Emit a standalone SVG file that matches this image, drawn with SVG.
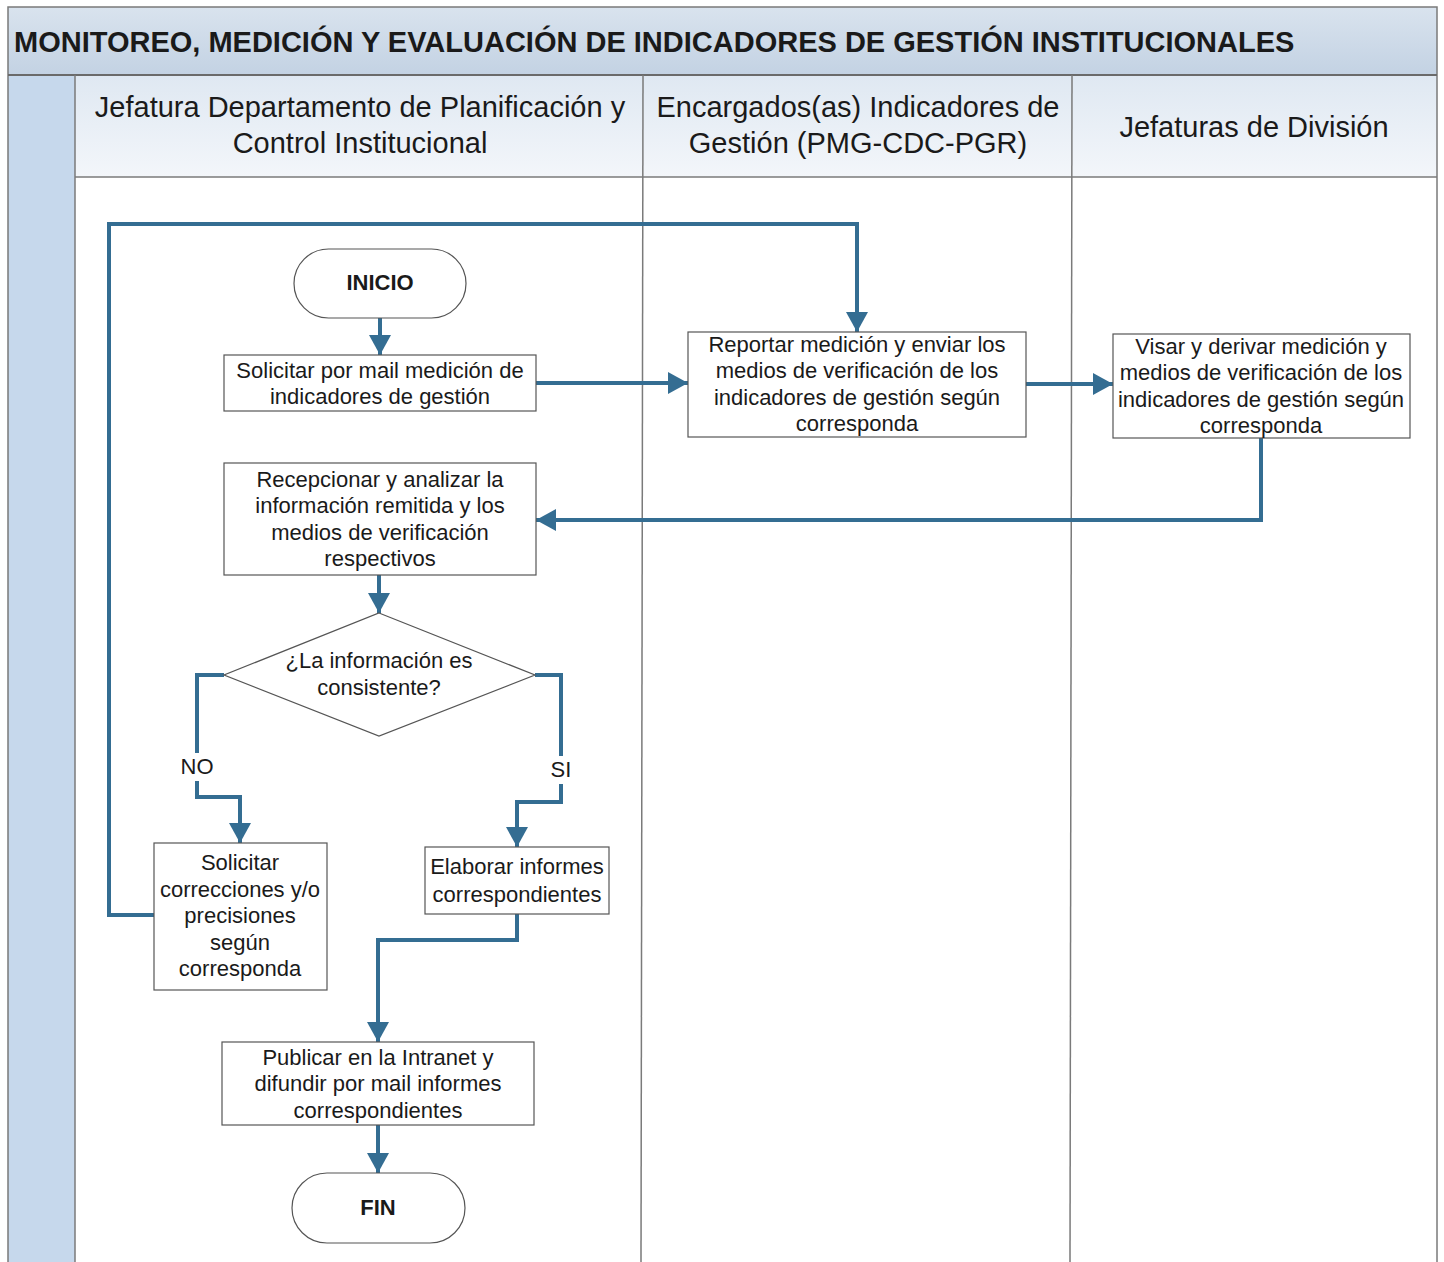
<svg xmlns="http://www.w3.org/2000/svg" width="1444" height="1262" viewBox="0 0 1444 1262">
<defs>
<linearGradient id="gTitle" x1="0" y1="0" x2="0" y2="1"><stop offset="0" stop-color="#d9e3ee"/><stop offset="1" stop-color="#c3d2e3"/></linearGradient>
<linearGradient id="gHead" x1="0" y1="0" x2="0" y2="1"><stop offset="0" stop-color="#dfe8f2"/><stop offset="1" stop-color="#f3f6fa"/></linearGradient>
<marker id="arr" markerUnits="userSpaceOnUse" markerWidth="24" markerHeight="24" viewBox="0 0 24 24" refX="20" refY="12" orient="auto">
<path d="M0,1 L20,12 L0,23 Z" fill="#346d92"/>
</marker>
<style>
.lane{fill:none;stroke:#7a7a7a;stroke-width:1.5}
.box{fill:#ffffff;stroke:#555;stroke-width:1.2}
.t{font-family:"Liberation Sans",Arial,sans-serif;font-size:22px;fill:#1a1a1a;text-anchor:middle}
.b{font-weight:bold}
.h{font-family:"Liberation Sans",Arial,sans-serif;font-size:29px;fill:#1a1a1a;text-anchor:middle}
.c{fill:none;stroke:#346d92;stroke-width:4;marker-end:url(#arr)}
.cn{fill:none;stroke:#346d92;stroke-width:4}
</style>
</defs>
<rect x="0" y="0" width="1444" height="1262" fill="#ffffff"/>
<g id="frame">
<rect x="8" y="7" width="1429" height="68" fill="url(#gTitle)"/>
<rect x="8" y="75" width="67" height="1187" fill="#c6d8ec"/>
<rect x="75" y="75" width="1362" height="102" fill="url(#gHead)"/>
<rect x="8" y="7" width="1429" height="1260" class="lane"/>
<line x1="8" y1="75" x2="1437" y2="75" stroke="#6a6a6a" stroke-width="2"/>
<line x1="75" y1="75" x2="75" y2="1262" class="lane"/>
<line x1="75" y1="177" x2="1437" y2="177" class="lane"/>
<line x1="643" y1="75" x2="641" y2="1262" class="lane"/>
<line x1="1072" y1="75" x2="1070" y2="1262" class="lane"/>
<text x="14" y="52" font-family="Liberation Sans, Arial, sans-serif" font-size="29" font-weight="bold" fill="#1a1a1a">MONITOREO, MEDICIÓN Y EVALUACIÓN DE INDICADORES DE GESTIÓN INSTITUCIONALES</text>
<text class="h" x="360" y="117">Jefatura Departamento de Planificación y</text>
<text class="h" x="360" y="153">Control Institucional</text>
<text class="h" x="858" y="117">Encargados(as) Indicadores de</text>
<text class="h" x="858" y="153">Gestión (PMG-CDC-PGR)</text>
<text class="h" x="1254" y="137">Jefaturas de División</text>
</g>
<g id="connectors">
<path class="c" d="M380,318 V355"/>
<path class="c" d="M536,383 H688"/>
<path class="c" d="M1026,384 H1113"/>
<path class="c" d="M1261,438 V520 H536"/>
<path class="c" d="M379,575 V613"/>
<path class="cn" d="M224,675 H197 V753"/>
<path class="c" d="M197,781 V797 H240 V843"/>
<path class="cn" d="M535,675 H561 V756"/>
<path class="c" d="M561,784 V802 H517 V847"/>
<path class="c" d="M517,914 V940 H378 V1042"/>
<path class="c" d="M378,1125 V1173"/>
<path class="c" d="M154,915 H109 V224 H857 V332"/>
<text class="t" x="197" y="774">NO</text>
<text class="t" x="561" y="777">SI</text>
</g>
<g id="inicio">
<rect class="box" x="294" y="249" width="172" height="69" rx="34.5"/>
<text class="t b" x="380" y="290">INICIO</text>
</g>
<g id="solicitar">
<rect class="box" x="224" y="355" width="312" height="56"/>
<text class="t" x="380" y="378">Solicitar por mail medición de</text>
<text class="t" x="380" y="404">indicadores de gestión</text>
</g>
<g id="reportar">
<rect class="box" x="688" y="332" width="338" height="105"/>
<text class="t" x="857" y="352">Reportar medición y enviar los</text>
<text class="t" x="857" y="378">medios de verificación de los</text>
<text class="t" x="857" y="405">indicadores de gestión según</text>
<text class="t" x="857" y="431">corresponda</text>
</g>
<g id="visar">
<rect class="box" x="1113" y="334" width="297" height="104"/>
<text class="t" x="1261" y="354">Visar y derivar medición y</text>
<text class="t" x="1261" y="380">medios de verificación de los</text>
<text class="t" x="1261" y="407">indicadores de gestión según</text>
<text class="t" x="1261" y="433">corresponda</text>
</g>
<g id="recepcionar">
<rect class="box" x="224" y="463" width="312" height="112"/>
<text class="t" x="380" y="487">Recepcionar y analizar la</text>
<text class="t" x="380" y="513">información remitida y los</text>
<text class="t" x="380" y="540">medios de verificación</text>
<text class="t" x="380" y="566">respectivos</text>
</g>
<g id="decision">
<polygon class="box" points="379,613 535,675 379,736 224,675"/>
<text class="t" x="379" y="668">¿La información es</text>
<text class="t" x="379" y="695">consistente?</text>
</g>
<g id="correcciones">
<rect class="box" x="154" y="843" width="173" height="147"/>
<text class="t" x="240" y="870">Solicitar</text>
<text class="t" x="240" y="897">correcciones y/o</text>
<text class="t" x="240" y="923">precisiones</text>
<text class="t" x="240" y="950">según</text>
<text class="t" x="240" y="976">corresponda</text>
</g>
<g id="elaborar">
<rect class="box" x="425" y="847" width="184" height="67"/>
<text class="t" x="517" y="874">Elaborar informes</text>
<text class="t" x="517" y="902">correspondientes</text>
</g>
<g id="publicar">
<rect class="box" x="222" y="1042" width="312" height="83"/>
<text class="t" x="378" y="1065">Publicar en la Intranet y</text>
<text class="t" x="378" y="1091">difundir por mail informes</text>
<text class="t" x="378" y="1118">correspondientes</text>
</g>
<g id="fin">
<rect class="box" x="292" y="1173" width="173" height="70" rx="35"/>
<text class="t b" x="378" y="1215">FIN</text>
</g>
</svg>
